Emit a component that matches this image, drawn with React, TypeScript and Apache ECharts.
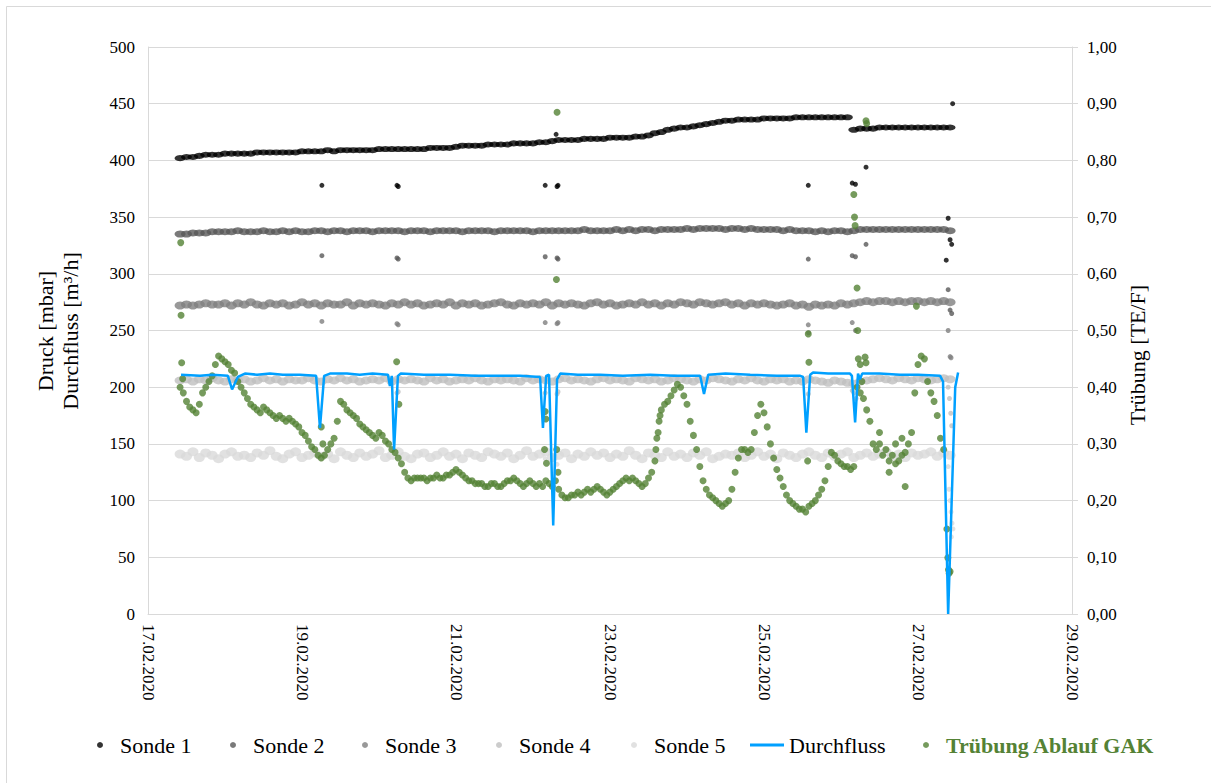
import React, { useEffect, useRef } from "react";
import * as echarts from "echarts";

// x values are days after 17.02.2020 00:00
const START_DAY = 10 / 24; // first sample: 17.02.2020 10:00
const SONDE_STEP_H = 2;
const TRUEB_STEP_H = 1;

const dateLabels = ["17.02.2020", "19.02.2020", "21.02.2020", "23.02.2020", "25.02.2020", "27.02.2020", "29.02.2020"];
const seriesNames = ["Sonde 1", "Sonde 2", "Sonde 3", "Sonde 4", "Sonde 5", "Durchfluss", "Trübung Ablauf GAK"];

const sonde1 = [
  402, 403, 403, 404, 405, 405,
  405, 406, 406, 406, 406, 406, 407, 407, 407, 407, 407, 407, 407, 408, 408, 408,
  408, 409, 408, 409, 409, 409, 409, 409, 409, 410, 410, 410, 410, 410, 410, 410, 410, 411, 411, 411,
  411, 412, 413, 413,
  413, 413, 414, 414, 414, 414, 415, 415, 415, 415, 416, 416,
  417, 418, 418, 418, 418, 419, 419,
  419, 419, 420, 420, 420, 420, 421, 421,
  422, 424, 425, 427, 428,
  429, 429, 430, 431, 432, 433, 434, 435, 435,
  436, 436, 436, 436, 437, 437, 437, 437, 437, 438,
  438, 438, 438, 438, 438, 438, 438, 438,
  427, 428, 428, 428, 429, 429, 429, 429, 429, 429, 429, 429, 429, 429, 429, 429,
];
const sonde2 = [
  335, 335, 336, 336, 336, 337,
  337, 337, 337, 338, 337, 337, 337, 338, 337, 337, 338, 337, 338, 337, 337, 338, 338, 337, 338, 338, 337, 338, 338, 338, 337, 338, 338, 338, 338, 337, 338, 338, 338, 337, 338,
  338, 338, 338, 337, 338, 338, 338, 338, 337, 338, 338, 338, 338, 338, 337, 338, 338, 338, 338, 338, 338, 338, 339, 338, 338, 338, 338, 339, 338, 339, 338, 339, 339, 338, 339,
  339, 339, 339, 340, 339, 340, 340, 340, 340, 339, 340, 340, 339, 340, 339, 339, 339, 339, 338, 339,
  338, 338, 338, 337, 338, 337, 338, 338, 337,
  338, 339, 339, 339, 339, 339, 339, 339, 339, 339, 339, 339, 339, 339, 339, 338,
];
const sonde3 = [
  272, 273, 272, 273, 274, 273,
  273, 274, 272, 274, 273, 275, 273, 272, 274, 273, 274, 272, 273, 275, 273, 274, 272, 274, 273, 273, 275, 272, 274, 273, 274, 273, 272, 274, 273, 275, 273, 274, 272, 273, 274,
  273, 275, 272, 274, 273, 274, 272, 273, 274, 275, 273, 272, 274, 273, 274, 273, 275, 272, 274, 273, 274, 273, 272, 274, 275, 273, 274, 272, 273, 274, 273, 275, 273, 274, 272,
  274, 273, 275, 274, 273, 275, 274, 273, 274, 275, 273, 274, 272, 274, 273, 274, 273, 272, 273, 274,
  272, 273, 271, 273, 272, 273, 272, 274, 273,
  274, 275, 276, 275, 276, 276, 275, 276, 275, 276, 276, 275, 276, 275, 276, 275,
];
const sonde4 = [
  206, 207, 205, 207, 206, 208, 206, 205, 207, 206, 207, 205, 206, 208, 206, 207, 205, 207, 206, 206, 208,
  206, 205, 207, 206, 208, 206, 207, 205, 206, 207, 206, 208, 205, 207, 206, 207, 206, 205, 208, 206, 207,
  205, 206, 207, 206, 208, 206, 205, 207, 206, 207, 206, 205, 208, 206, 207, 206, 205, 207, 208, 206, 207,
  206, 205, 207, 208, 206, 207, 206, 205, 208, 207, 206, 207, 205, 206, 208, 207, 206, 205, 207, 206, 208,
  207, 206, 205, 207, 206, 208, 206, 205, 207, 206, 207, 205, 206, 205, 207, 206, 205, 204, 206, 205, 204,
  203, 205, 206, 207, 208, 207, 206, 208, 207, 206, 208, 207, 206, 207, 208, 207,
];
const sonde5 = [
  141, 139, 143, 138, 142, 140, 137, 141, 143, 139, 140,
  138, 142, 140, 144, 139, 137, 141, 143, 138, 140, 142,
  139, 141, 137, 143, 140, 138, 142, 139, 141, 144, 138,
  140, 143, 139, 137, 141, 142, 138, 140, 143, 139, 141,
  137, 142, 140, 138, 143, 141, 139, 142, 137, 140, 144,
  139, 141, 143, 138, 140, 142, 137, 141, 139, 143, 140,
  142, 138, 141, 139, 144, 140, 137, 142, 140, 138, 143,
  139, 141, 138, 142, 140, 143, 137, 139, 141, 140, 142,
  138, 140, 143, 139, 141, 137, 142, 140, 138, 141, 143,
  140, 138, 142, 139, 141, 143, 138, 140, 142, 139, 141,
  143, 139, 141, 138, 142, 140, 141, 143, 139, 142, 140,
];

// outliers: [hours after first sample, value]
const sonde1Out = [[44.2, 378], [67.6, 378], [68, 377], [113.8, 378], [117.5, 377], [117.8, 378], [117.2, 423], [195.8, 378], [209.5, 380], [210.5, 379], [213.8, 394], [238.8, 312], [239.4, 349], [240, 330], [240.5, 326], [240.8, 450]];
const sonde2Out = [[44.2, 316], [67.6, 314], [68, 313], [113.8, 315], [117.5, 314], [117.8, 313], [195.8, 313], [209.5, 316], [210.5, 315], [213.8, 326], [239.4, 286], [240, 268], [240.5, 265]];
const sonde3Out = [[44.2, 258], [67.6, 256], [68, 255], [113.8, 257], [117.5, 256], [117.8, 257], [195.8, 255], [195.9, 248], [209.5, 257], [210.5, 250], [239.4, 250], [240, 227], [240.3, 226]];
const sonde4Out = [[67.6, 195], [68, 196], [113.8, 195], [117.5, 194], [117.8, 196], [195.8, 194], [209.5, 197], [210, 195], [210.7, 190], [239.4, 200], [239.8, 190], [240.2, 177], [240.5, 166]];
const sonde5Out = [[113.8, 137], [117.5, 132], [239.4, 130], [239.7, 110], [240, 100], [240.3, 90], [240.6, 80], [240.9, 75], [240.4, 68]];

const flowHours = [0.3, 6.2, 10, 14.9, 16.2, 18, 20.2, 24, 28, 32, 37.4, 42.4, 43.6, 44.9, 46.7, 52, 56, 60, 64.8, 65.4, 66, 66.7, 67.9, 68.8, 76, 84.1, 92, 99.7, 106, 112.2, 113.1, 114.1, 115, 116.3, 117.5, 118.5, 124, 130.9, 138, 146.5, 154, 162.1, 163.3, 164.6, 170, 177.7, 186, 193.3, 194.2, 195.2, 196.4, 197.3, 202, 208.8, 209.4, 210.4, 211.3, 211.9, 212.6, 218, 224.4, 230, 236.9, 237.8, 239.4, 241.6, 242.5];
const flowValues = [211, 210, 211, 210, 198, 209, 212, 211, 212, 211, 211, 210, 164, 210, 212, 212, 211, 212, 211, 201, 210, 145, 210, 212, 211, 211, 210, 210, 210, 209, 164, 210, 211, 78, 207, 212, 211, 211, 210, 211, 210, 210, 194, 211, 212, 211, 210, 210, 209, 160, 211, 213, 212, 212, 210, 169, 212, 207, 212, 212, 211, 211, 210, 205, 0, 200, 213];

const truebung = [
  0.40, 0.39, 0.375, 0.365, 0.36, 0.355, 0.37, 0.39, 0.40, 0.41,
  0.42, 0.44, 0.455, 0.45, 0.445, 0.44, 0.43, 0.425, 0.41, 0.40,
  0.39, 0.38, 0.37, 0.365, 0.36, 0.355, 0.365, 0.36, 0.355, 0.35,
  0.345, 0.35, 0.345, 0.34, 0.345, 0.34, 0.335, 0.33, 0.32, 0.315,
  0.305, 0.295, 0.29, 0.28, 0.275, 0.28, 0.29, 0.30, 0.31, 0.34,
  0.375, 0.37, 0.36, 0.355, 0.35, 0.345, 0.335, 0.33, 0.325, 0.32,
  0.315, 0.31, 0.32, 0.315, 0.305, 0.30, 0.29, 0.285, 0.275, 0.265,
  0.25, 0.24, 0.235, 0.24, 0.24, 0.24, 0.24, 0.235, 0.24, 0.24,
  0.245, 0.24, 0.24, 0.245, 0.245, 0.25, 0.255, 0.25, 0.245, 0.24,
  0.235, 0.235, 0.23, 0.23, 0.23, 0.225, 0.225, 0.23, 0.23, 0.225,
  0.225, 0.23, 0.235, 0.235, 0.24, 0.235, 0.23, 0.225, 0.23, 0.235,
  0.23, 0.225, 0.23, 0.225, 0.235, 0.23, 0.225, 0.235, 0.22, 0.21,
  0.205, 0.205, 0.21, 0.21, 0.215, 0.21, 0.215, 0.22, 0.215, 0.22,
  0.225, 0.22, 0.215, 0.21, 0.215, 0.22, 0.225, 0.23, 0.235, 0.24,
  0.235, 0.24, 0.235, 0.23, 0.225, 0.23, 0.24, 0.25, 0.27, 0.32,
  0.36, 0.37, 0.375, 0.385, 0.395, 0.405, 0.40, 0.385, 0.37, 0.34,
  0.315, 0.29, 0.26, 0.235, 0.22, 0.21, 0.205, 0.20, 0.195, 0.19,
  0.195, 0.20, 0.22, 0.25, 0.275, 0.29, 0.29, 0.285, 0.29, 0.32,
  0.35, 0.37, 0.355, 0.33, 0.30, 0.275, 0.255, 0.24, 0.225, 0.21,
  0.20, 0.195, 0.19, 0.185, 0.185, 0.18, 0.19, 0.195, 0.20, 0.21,
  0.22, 0.235, 0.26, 0.285, 0.28, 0.27, 0.265, 0.26, 0.26, 0.255,
  0.26, 0.40, 0.39, 0.38, 0.36, 0.34, 0.30, 0.29, 0.30, 0.28,
  0.29, 0.27, 0.28, 0.265, 0.27, 0.28, 0.285, 0.30, 0.32, 0.39,
  0.44, 0.455, 0.45, 0.41, 0.39, 0.375, 0.35, 0.31, 0.29, 0.15,
  0.075,
];
const truebungOut = [[0.2, 0.655], [0.3, 0.527], [0.5, 0.443], [0.8, 0.415], [44, 0.33], [44.5, 0.30], [67.5, 0.445], [68.2, 0.37], [113.8, 0.357], [114, 0.344], [113.6, 0.29], [117.4, 0.29], [114.2, 0.266], [117.5, 0.885], [117.3, 0.59], [117.8, 0.25], [148.3, 0.29], [148.6, 0.31], [149.3, 0.34], [149.6, 0.35], [195.8, 0.494], [196, 0.444], [195.6, 0.27], [210, 0.74], [210.2, 0.70], [210.4, 0.685], [211, 0.575], [211.2, 0.50], [211.4, 0.45], [213.5, 0.453], [213.8, 0.443], [212, 0.44], [212.5, 0.41], [213.8, 0.87], [214, 0.865], [229.5, 0.543], [226, 0.225], [221, 0.25], [218, 0.32], [223, 0.30], [225, 0.31], [239.3, 0.099], [239.5, 0.078], [239.7, 0.072]];

const FONT = "Liberation Serif";
const toX = (h: number) => START_DAY + h / 24;

function sondeData(vals: number[], out: number[][]) {
  const main = vals.map((v, i) => [toX(i * SONDE_STEP_H), v]);
  const extra = out.map(([h, v]) => ({ value: [toX(h), v], symbolSize: 5 }));
  return [...main, ...extra];
}

export default function App() {
  const ref = useRef<HTMLDivElement>(null);
  useEffect(() => {
    if (!ref.current) return;
    const chart = echarts.init(ref.current, null, { renderer: "svg" });
    const scatter = (name: string, color: string, vals: number[], out: number[][], size: number[]) => ({
      name,
      type: "scatter",
      data: sondeData(vals, out),
      symbol: "circle",
      symbolSize: size,
      itemStyle: { color },
      yAxisIndex: 0,
    });
    const legendText = { fontFamily: FONT, fontSize: 22, color: "#000" };
    // left edge of each legend item's visible content
    const legendLefts = [97, 230, 362, 496, 631, 750, 923];
    const legends = seriesNames.map((name, i) => {
      const isLine = name === "Durchfluss";
      const isGreen = i === seriesNames.length - 1;
      return {
        left: legendLefts[i],
        top: 734,
        padding: 0,
        itemWidth: isLine ? 34 : 30,
        itemHeight: isLine ? 3 : 6,
        symbolKeepAspect: false,
        textStyle: isGreen ? { ...legendText, fontWeight: "bold", color: "#548235" } : legendText,
        data: [{ name, icon: isLine ? "rect" : "circle" }],
      };
    });
    const option = {
      animation: false,
      textStyle: { fontFamily: FONT },
      grid: { left: 148, right: 139, top: 47, bottom: 169, containLabel: false },
      xAxis: {
        type: "value",
        min: 0,
        max: 12,
        interval: 2,
        axisLine: { show: true, lineStyle: { color: "#d9d9d9", width: 1 } },
        axisTick: { show: false },
        splitLine: { show: false },
        axisLabel: {
          rotate: -90,
          margin: 10,
          fontSize: 17,
          color: "#000",
          fontFamily: FONT,
          formatter: (v: number) => dateLabels[Math.round(v / 2)] ?? "",
        },
      },
      yAxis: [
        {
          type: "value",
          min: 0,
          max: 500,
          interval: 50,
          position: "left",
          axisLine: { show: true, lineStyle: { color: "#d9d9d9", width: 1 } },
          axisTick: { show: false },
          splitLine: { show: true, lineStyle: { color: "#d9d9d9", width: 1 } },
          axisLabel: { margin: 13, fontSize: 17, color: "#000", fontFamily: FONT },
        },
        {
          type: "value",
          min: 0,
          max: 1,
          interval: 0.1,
          position: "right",
          axisLine: { show: true, lineStyle: { color: "#d9d9d9", width: 1 } },
          axisTick: { show: true, inside: false, length: 6, lineStyle: { color: "#d9d9d9" } },
          splitLine: { show: false },
          axisLabel: {
            margin: 15,
            fontSize: 17,
            color: "#000",
            fontFamily: FONT,
            formatter: (v: number) => v.toFixed(2).replace(".", ","),
          },
        },
      ],
      legend: legends,
      graphic: [
        {
          type: "rect",
          silent: true,
          z: -10,
          shape: { x: 6.5, y: 6.5, width: 1300, height: 900 },
          style: { fill: "none", stroke: "#d9d9d9", lineWidth: 1 },
        },
        {
          type: "text",
          x: 45,
          y: 331,
          rotation: Math.PI / 2,
          style: { text: "Druck [mbar]", fontFamily: FONT, fontSize: 22, fill: "#000", align: "center", verticalAlign: "middle" },
        },
        {
          type: "text",
          x: 70,
          y: 331,
          rotation: Math.PI / 2,
          style: { text: "Durchfluss [m³/h]", fontFamily: FONT, fontSize: 22, fill: "#000", align: "center", verticalAlign: "middle" },
        },
        {
          type: "text",
          x: 1137,
          y: 355,
          rotation: Math.PI / 2,
          style: { text: "Trübung [TE/F]", fontFamily: FONT, fontSize: 22, fill: "#000", align: "center", verticalAlign: "middle" },
        },
      ],
      series: [
        scatter(seriesNames[0], "#000000", sonde1, sonde1Out, [11, 6]),
        scatter(seriesNames[1], "#595959", sonde2, sonde2Out, [11, 7]),
        scatter(seriesNames[2], "#808080", sonde3, sonde3Out, [11, 8]),
        scatter(seriesNames[3], "#bfbfbf", sonde4, sonde4Out, [11, 8]),
        scatter(seriesNames[4], "#d9d9d9", sonde5, sonde5Out, [11, 9]),
        {
          name: seriesNames[5],
          type: "line",
          yAxisIndex: 0,
          data: flowHours.map((h, i) => [toX(h), flowValues[i]]),
          showSymbol: false,
          symbol: "none",
          lineStyle: { color: "#00a0ff", width: 2.5 },
          itemStyle: { color: "#00a0ff" },
        },
        {
          name: seriesNames[6],
          type: "scatter",
          yAxisIndex: 1,
          symbol: "circle",
          symbolSize: 7,
          itemStyle: { color: "#548235" },
          data: [
            ...truebung.map((v, i) => [toX(i * TRUEB_STEP_H), v]),
            ...truebungOut.map(([h, v]) => [toX(h), v]),
          ],
        },
      ],
    };
    chart.setOption(option as any);
    return () => chart.dispose();
  }, []);
  return <div ref={ref} style={{ position: "absolute", left: 0, top: 0, width: 1211, height: 783 }} />;
}
